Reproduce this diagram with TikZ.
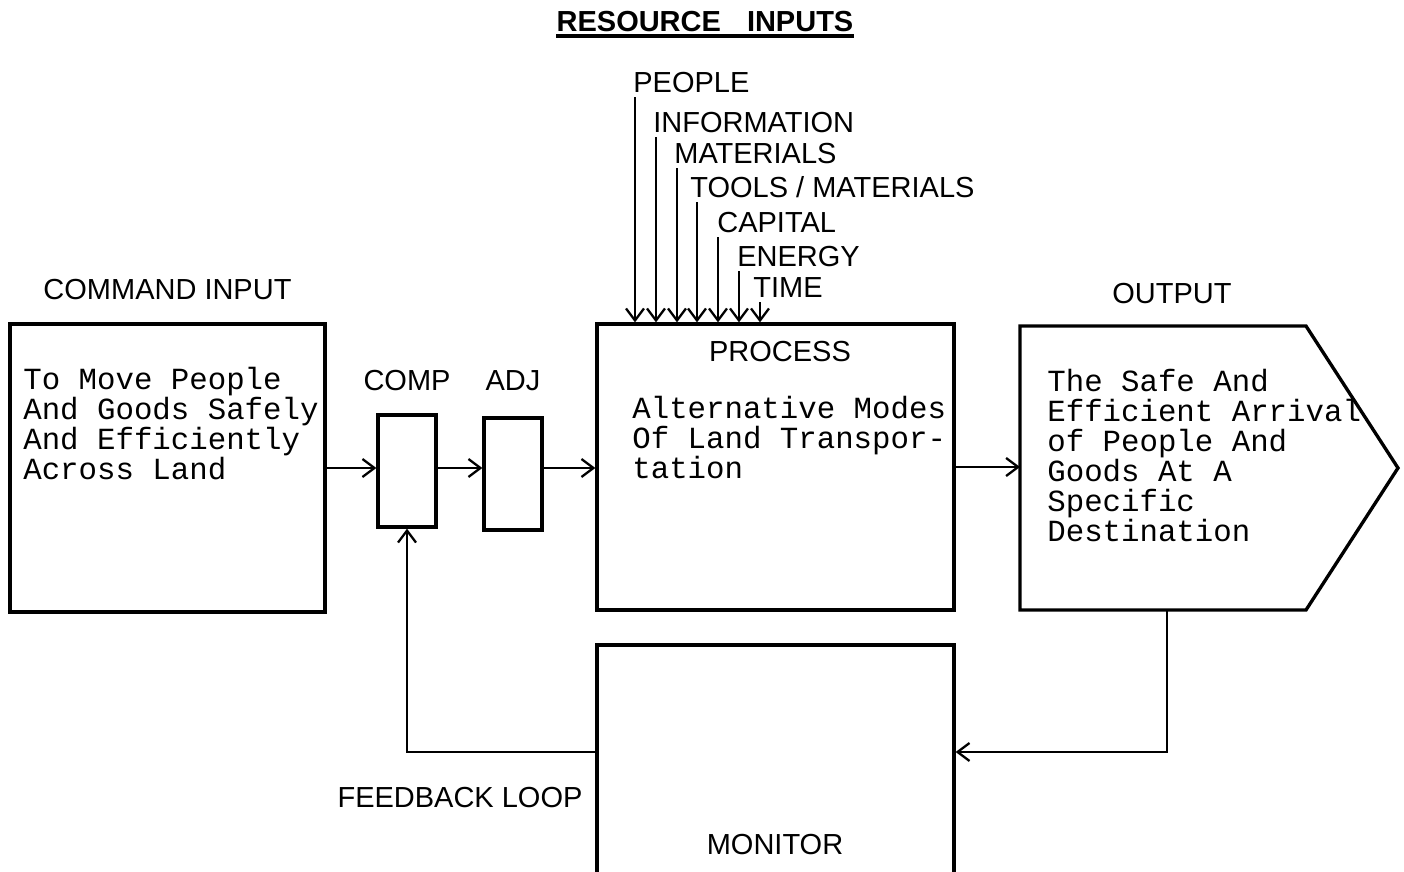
\documentclass[tikz,border=0pt]{standalone}
\usepackage{fontspec}
\setmainfont{Liberation Sans}
\setmonofont{Liberation Mono}
\usetikzlibrary{arrows.meta}
\usetikzlibrary{positioning}

\tikzset{
  blk/.style={draw, line width=1.9pt, inner sep=0pt, line join=miter},
  lbl/.style={font=\fontsize{16.5}{19}\selectfont, inner sep=0pt},
  txt/.style={font=\fontsize{17.5}{17.07}\selectfont\ttfamily, align=left, inner sep=0pt, anchor=base west},
  flow/.style={line width=1.3pt, -{Straight Barb[length=0.24cm, width=0.36cm, line width=1.3pt]}},
}

\begin{document}
\begin{tikzpicture}[x=0.02cm, y=-0.02cm]
\useasboundingbox (0,0) rectangle (1404,872);

\node[lbl, font=\fontsize{16.5}{19}\selectfont\bfseries] (title) at (705,22) {RESOURCE\hspace{0.9em}INPUTS};
\draw[line width=1.9pt] ([yshift=-0.07cm]title.south west) -- ([yshift=-0.07cm]title.south east);

% blocks
\node[blk, minimum width=6.3cm, minimum height=5.76cm] (cmd) at (167.5,468) {};
\node[blk, minimum width=1.16cm, minimum height=2.24cm] (comp) at (407,471) {};
\node[blk, minimum width=1.16cm, minimum height=2.24cm] (adj) at (513,474) {};
\node[blk, minimum width=7.14cm, minimum height=5.72cm] (proc) at (775.5,467) {};
\node[blk, minimum width=7.14cm, minimum height=5.4cm] (mon) at (775.5,780) {};
\draw[blk] (1020,326) -- (1306,326) -- (1398,468) -- (1306,610) -- (1020,610) -- cycle;
\coordinate (outW) at (1020,467);
\coordinate (outN) at (1172,326);
\coordinate (outS) at (1167,610);
\coordinate (fbR) at (1167,752);

% labels
\node[lbl, above=0.44cm of cmd] (cmdlbl) {COMMAND INPUT};
\node[lbl, above=0.44cm of comp] (complbl) {COMP};
\node[lbl, above=0.5cm of adj] (adjlbl) {ADJ};
\node[lbl, below=0.38cm of proc.north, xshift=0.09cm] (proclbl) {PROCESS};
\node[lbl, above=0.44cm of outN] (outlbl) {OUTPUT};
\node[lbl] (monlbl) at (775,845) {MONITOR};
\node[lbl] (fblbl) at (460,798) {FEEDBACK LOOP};

% texts (base = last line)
\node[txt] (cmdtxt) at (23,479) {To Move People\\And Goods Safely\\And Efficiently\\Across Land};
\node[txt] (proctxt) at (632,478) {Alternative Modes\\Of Land Transpor-\\tation};
\node[txt] (outtxt) at (1047,541) {The Safe And\\Efficient Arrival\\of People And\\Goods At A\\Specific\\Destination};

% resource inputs
\foreach \n/\x/\y/\s [count=\i] in {PEOPLE/635/92/2, INFORMATION/656/132/3, MATERIALS/677/163/3,
    {TOOLS / MATERIALS}/697/197/7, CAPITAL/718/232/1, ENERGY/739/266/2, TIME/760/297/7}{
  \node[lbl, anchor=base west] (res\i) at (\x-\s,\y) {\n};
  \coordinate (top\i) at ([shift={(\s,5)}]res\i.base west);
  \draw[flow] (top\i) -- (top\i |- proc.north);
}

% connectors
\draw[flow] (cmd.east) -- (cmd.east -| comp.west);
\draw[flow] (cmd.east -| comp.east) -- (cmd.east -| adj.west);
\draw[flow] (cmd.east -| adj.east) -- (cmd.east -| proc.west);
\draw[flow] (proc.east) -- (outW);
\draw[flow] (outS) -- (fbR) -- (fbR -| mon.east);
\draw[flow] (fbR -| mon.west) -| (comp.south);
\end{tikzpicture}
\end{document}
